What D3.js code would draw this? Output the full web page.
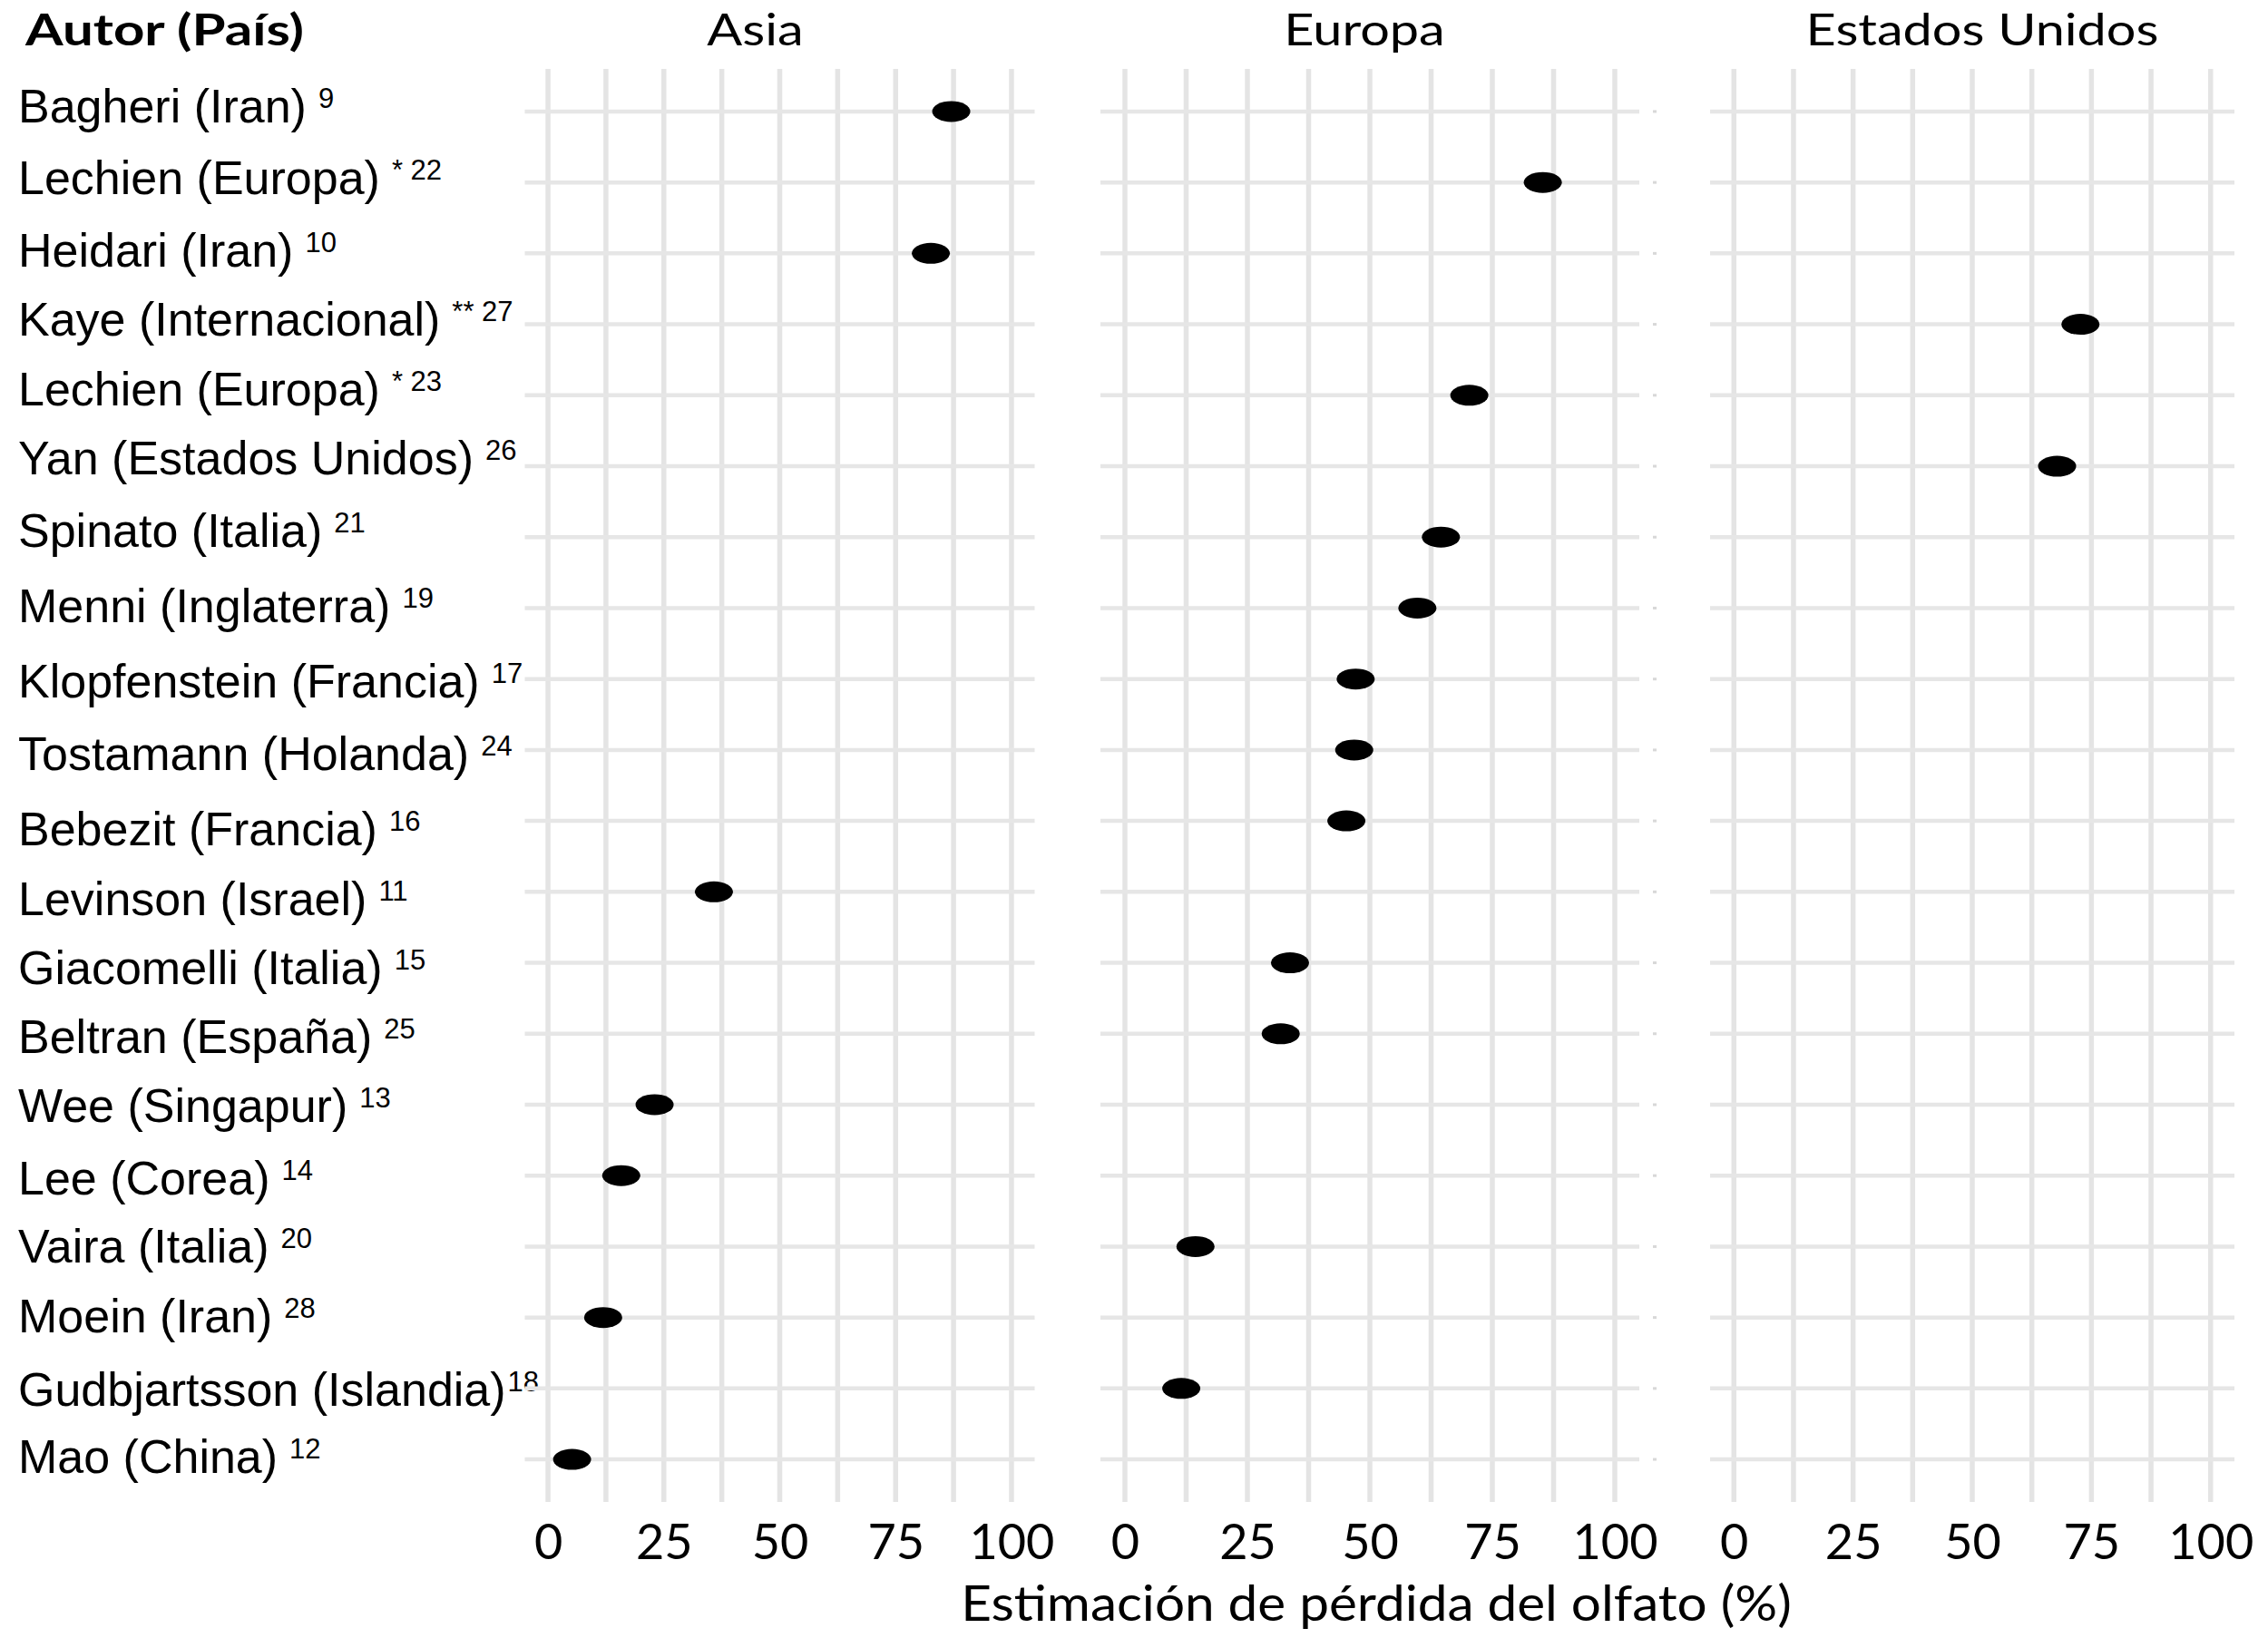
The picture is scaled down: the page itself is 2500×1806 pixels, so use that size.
<!DOCTYPE html>
<html>
<head>
<meta charset="utf-8">
<script src="https://cdn.jsdelivr.net/npm/d3@7/dist/d3.min.js"></script>
<style>
  html, body { margin: 0; padding: 0; background: #fff; }
  svg { display: block; }
</style>
</head>
<body>
<svg id="chart" width="2500" height="1806"></svg>
<script>
// ---------------- DATA ----------------
const authors = ["Bagheri (Iran)", "Lechien (Europa)", "Heidari (Iran)", "Kaye (Internacional)",
  "Lechien (Europa)", "Yan (Estados Unidos)", "Spinato (Italia)", "Menni (Inglaterra)",
  "Klopfenstein (Francia)", "Tostamann (Holanda)", "Bebezit (Francia)", "Levinson (Israel)",
  "Giacomelli (Italia)", "Beltran (España)", "Wee (Singapur)", "Lee (Corea)", "Vaira (Italia)",
  "Moein (Iran)", "Gudbjartsson (Islandia)", "Mao (China)"];
const refs = ["9", "* 22", "10", "** 27", "* 23", "26", "21", "19", "17", "24", "16", "11",
  "15", "25", "13", "14", "20", "28", "18", "12"];
const regions = ["Asia", "Europa", "Asia", "Estados Unidos", "Europa", "Estados Unidos",
  "Europa", "Europa", "Europa", "Europa", "Europa", "Asia", "Europa", "Europa", "Asia",
  "Asia", "Europa", "Asia", "Europa", "Asia"];
const smellLoss = [87.0, 85.3, 82.6, 72.7, 70.3, 67.8, 64.5, 59.7, 47.1, 46.8, 45.2, 35.8,
  33.7, 31.8, 23.0, 15.8, 14.4, 11.9, 11.5, 5.2];
const panels = ["Asia", "Europa", "Estados Unidos"];
const xTicks = [0, 25, 50, 75, 100];
const xGrid = [0, 12.5, 25, 37.5, 50, 62.5, 75, 87.5, 100];
const yTitle = "Autor (País)";
const xTitle = "Estimación de pérdida del olfato (%)";

// ---------------- LAYOUT (styling, not data) ----------------
const svg = d3.select("#chart");
const panelExtents = { "Asia": [578.5, 1140.5], "Europa": [1213, 1807], "Estados Unidos": [1885, 2463] };
const titleShift = { "Asia": -27, "Europa": -6, "Estados Unidos": 11 };
// small vertical nudges of the pasted row labels in the original figure
const labelNudge = [0, 1, 3, 0, -1, -3, -1, 4, 8, 10, 15, 14, 11, 9, 7, 9, 6, 4, 7, 3];
const plotTop = 76, plotBottom = 1656;

const y = d3.scalePoint()
  .domain(d3.range(authors.length))
  .range([plotTop, plotBottom])
  .padding(0.6);

const labelFont = "'Liberation Sans', Arial, sans-serif";
const calFont = "Lato, 'Open Sans', sans-serif";

// y title
svg.append("text")
  .attr("transform", "translate(28,50) scale(1.25,1)")
  .attr("font-family", calFont).attr("font-weight", 700)
  .attr("font-size", 48).attr("fill", "#000")
  .text(yTitle);

// row labels
const lab = svg.append("g").attr("class", "row-labels");
authors.forEach((a, i) => {
  const t = lab.append("text")
    .attr("x", 20).attr("y", y(i) + 12 + labelNudge[i])
    .attr("font-family", labelFont).attr("font-size", 52).attr("fill", "#000");
  t.append("tspan").text(a);
  t.append("tspan")
    .attr("dx", a.startsWith("Gudbjartsson") ? 2 : 13)
    .attr("dy", -16)
    .attr("font-size", 31)
    .text(refs[i]);
});

// panels
panels.forEach(p => {
  const ext = panelExtents[p];
  const x = d3.scaleLinear().domain([-5, 105]).range(ext);
  const g = svg.append("g").attr("class", "panel");

  // vertical grid
  g.selectAll("line.v").data(xGrid).join("line")
    .attr("class", "v")
    .attr("x1", d => x(d)).attr("x2", d => x(d))
    .attr("y1", plotTop).attr("y2", plotBottom)
    .attr("stroke", "#e4e4e4").attr("stroke-width", 5.5);

  // horizontal grid
  g.selectAll("line.h").data(d3.range(authors.length)).join("line")
    .attr("class", "h")
    .attr("x1", ext[0]).attr("x2", ext[1])
    .attr("y1", d => y(d)).attr("y2", d => y(d))
    .attr("stroke", "#e6e6e6").attr("stroke-width", 4.5);

  // dots
  const rows = d3.range(authors.length).filter(i => regions[i] === p);
  g.selectAll("ellipse").data(rows).join("ellipse")
    .attr("cx", i => x(smellLoss[i]))
    .attr("cy", i => y(i))
    .attr("rx", 21).attr("ry", 11.5)
    .attr("fill", "#000");

  // panel title
  svg.append("text")
    .attr("transform", `translate(${(ext[0] + ext[1]) / 2 + titleShift[p]},50) scale(1.2,1)`)
    .attr("text-anchor", "middle")
    .attr("font-family", calFont).attr("font-size", 48).attr("fill", "#000")
    .text(p);

  // x axis
  const ax = svg.append("g")
    .attr("transform", `translate(0, 1719)`)
    .call(d3.axisBottom(x).tickValues(xTicks).tickSize(0).tickFormat(d3.format("d")));
  ax.select(".domain").remove();
  ax.selectAll("text")
    .attr("y", 0).attr("dy", 0)
    .attr("font-family", calFont).attr("font-size", 54).attr("fill", "#000");
});

// faint tick remnants right of Europa panel
svg.append("g").selectAll("line").data(d3.range(authors.length)).join("line")
  .attr("x1", 1822).attr("x2", 1826)
  .attr("y1", d => y(d)).attr("y2", d => y(d))
  .attr("stroke", "#d8d8d8").attr("stroke-width", 3);

// x title
svg.append("text")
  .attr("transform", "translate(1517,1787) scale(1.083,1)")
  .attr("text-anchor", "middle")
  .attr("font-family", calFont).attr("font-size", 54).attr("fill", "#000")
  .text(xTitle);
</script>
</body>
</html>
